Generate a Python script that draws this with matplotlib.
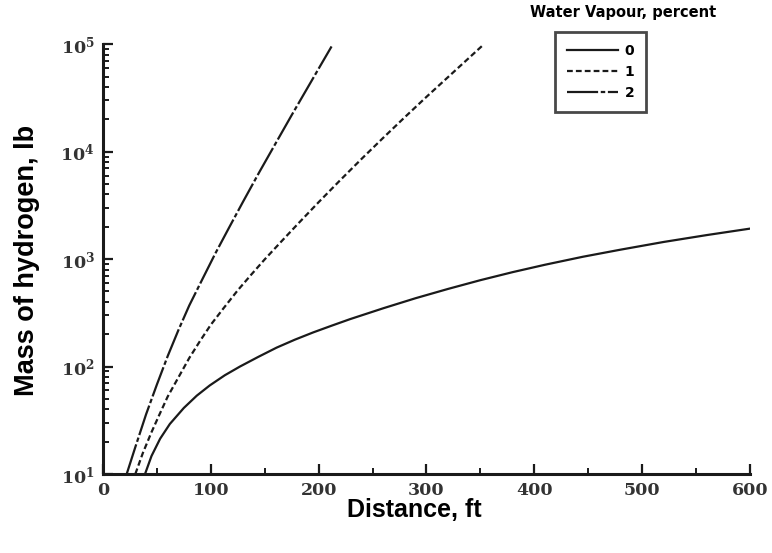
import numpy as np
import matplotlib.pyplot as plt
from matplotlib.ticker import FixedLocator, LogLocator, NullFormatter

# curves (distance in ft, mass in lb)
dist_2 = [22, 30, 40, 50, 60, 70, 80, 92, 104, 117, 130, 145, 161, 175, 190, 201, 212]
mass_2 = [10, 17.8, 36, 68, 125, 219, 370, 645, 1120, 1970, 3440, 6460, 12400, 21900,
          39800, 61700, 95500]

dist_1 = [30, 37, 45, 52, 60, 70, 80, 90, 100, 112, 125, 137, 150, 165, 180, 200, 220, 240,
          260, 280, 300, 325, 353]
mass_1 = [10, 15.7, 24.5, 35.1, 52.5, 79.4, 120, 173, 245, 351, 513, 708, 995, 1445, 2090,
          3390, 5430, 8610, 13500, 21000, 32400, 55000, 99500]

dist_0 = [39, 45, 53, 62, 75, 87, 99, 113, 127, 144, 161, 178, 195, 212, 229, 260, 290, 320,
          350, 380, 410, 445, 480, 520, 560, 600]
mass_0 = [10, 14.7, 21.3, 29.2, 41.2, 53.6, 66.7, 83, 100, 123, 150, 178, 208, 240, 276, 349,
          433, 528, 637, 757, 887, 1052, 1225, 1445, 1675, 1923]

x_ticks = [0, 100, 200, 300, 400, 500, 600]
x_minor = [50, 150, 250, 350, 450, 550]
y_ticks = [1e1, 1e2, 1e3, 1e4, 1e5]
y_labels = ['$\\mathbf{10^{1}}$', '$\\mathbf{10^{2}}$', '$\\mathbf{10^{3}}$',
            '$\\mathbf{10^{4}}$', '$\\mathbf{10^{5}}$']
legend_labels = ['0', '1', '2']

plt.rcParams['mathtext.fontset'] = 'dejavuserif'

ink = '#1a1a1a'
fig = plt.figure(figsize=(7.72, 5.53), dpi=100)
ax = fig.add_axes([0.1334, 0.1429, 0.838, 0.777])

ax.plot(dist_0, mass_0, color=ink, lw=1.6, linestyle='-', label=legend_labels[0])
ax.plot(dist_1, mass_1, color=ink, lw=1.6, linestyle=(0, (2.6, 1.4)), label=legend_labels[1])
ax.plot(dist_2, mass_2, color=ink, lw=1.6, linestyle=(0, (14, 1.2, 2, 1.2)), label=legend_labels[2])

ax.set_yscale('log')
ax.set_xlim(0, 600)
ax.set_ylim(10, 1e5)

ax.spines['top'].set_visible(False)
ax.spines['right'].set_visible(False)
for s in ['left', 'bottom']:
    ax.spines[s].set_linewidth(2.2)
    ax.spines[s].set_color(ink)

ax.xaxis.set_major_locator(FixedLocator(x_ticks))
ax.xaxis.set_minor_locator(FixedLocator(x_minor))
ax.set_xticklabels([str(t) for t in x_ticks], fontfamily='DejaVu Serif',
                   fontweight='bold', fontsize=12.5, color='#333333')
ax.yaxis.set_major_locator(FixedLocator(y_ticks))
ax.yaxis.set_minor_locator(LogLocator(base=10, subs=np.arange(2, 10)))
ax.yaxis.set_minor_formatter(NullFormatter())
ax.set_yticklabels(y_labels, fontsize=12.5, color='#333333')

ax.tick_params(which='major', direction='in', length=7, width=1.6, color=ink, pad=6)
ax.tick_params(which='minor', direction='in', length=4, width=1.4, color=ink)

ax.set_xlabel('Distance, ft', fontfamily='Liberation Sans', fontweight='bold', fontsize=18)
ax.xaxis.set_label_coords(0.482, -0.084)
ax.xaxis.label.set_va('center')
ax.set_ylabel('Mass of hydrogen, lb', fontfamily='Liberation Sans', fontweight='bold',
              fontsize=19.5)
ax.yaxis.set_label_coords(-0.117, 0.498)
ax.yaxis.label.set_va('center')

leg = ax.legend(loc='upper left', bbox_to_anchor=(555 / 772, 1 - 32 / 553),
                bbox_transform=fig.transFigure, frameon=True, fancybox=False,
                edgecolor=ink, handlelength=3.7, handletextpad=0.45, borderpad=0.85,
                labelspacing=0.5, borderaxespad=0,
                prop={'family': 'DejaVu Sans', 'weight': 'bold', 'size': 10})
leg.get_frame().set_linewidth(2.0)
fig.text(623 / 772, 1 - 13 / 553, 'Water Vapour, percent', ha='center', va='center',
         fontfamily='DejaVu Sans', fontweight='bold', fontsize=10.5)

fig.savefig('out.png', dpi=100)
